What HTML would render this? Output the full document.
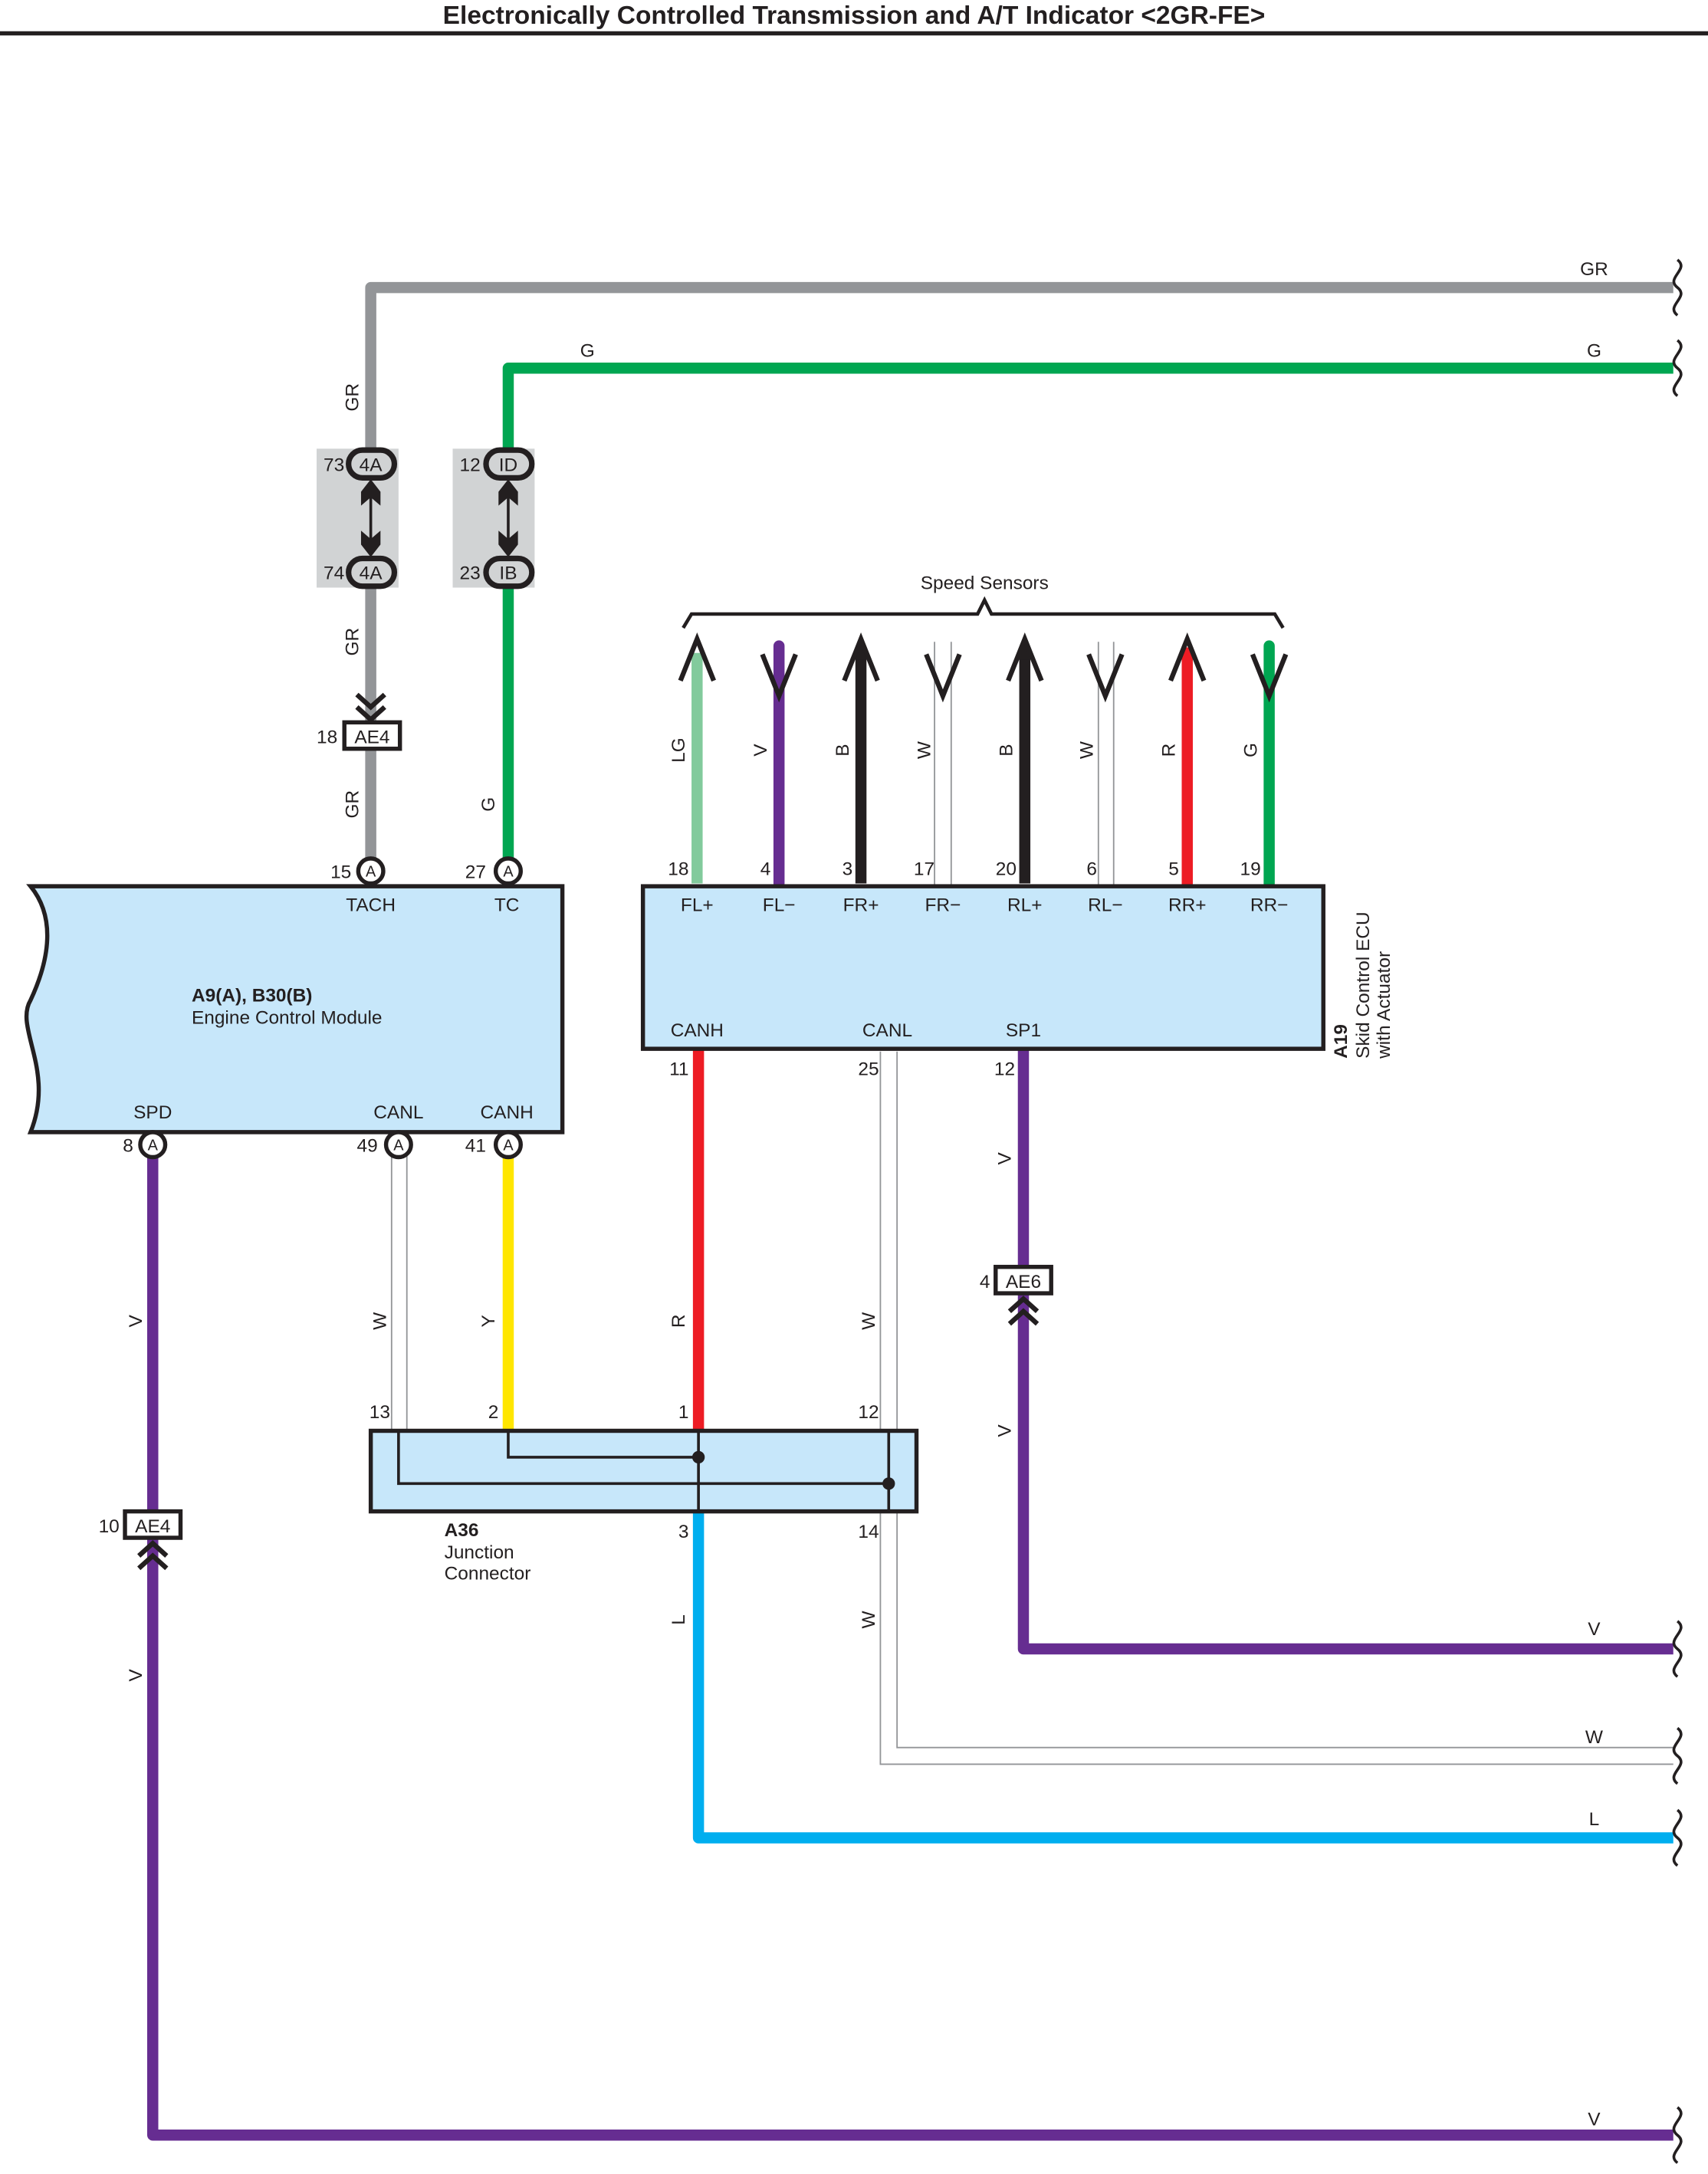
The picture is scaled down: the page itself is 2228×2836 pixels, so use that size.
<!DOCTYPE html>
<html><head><meta charset="utf-8"><style>html,body{margin:0;padding:0;background:#fff}svg{display:block}text{font-family:"Liberation Sans",sans-serif;font-size:13.5px;fill:#231f20}</style></head><body>
<svg width="2228" height="2836" viewBox="0 0 1230 1565" preserveAspectRatio="none" xmlns="http://www.w3.org/2000/svg">
<defs>
<g id="wave"><path d="M0,-20 c9,7 -9,13 0,20 c9,7 -9,13 0,20" fill="none" stroke="#231f20" stroke-width="2"/></g>
</defs>
<text x="615" y="17" text-anchor="middle" style="font-weight:bold;font-size:18.5px">Electronically Controlled Transmission and A/T Indicator &lt;2GR-FE&gt;</text>
<line x1="0" y1="24" x2="1230" y2="24" stroke="#231f20" stroke-width="3"/>

<!-- GR wire -->
<path d="M267,627 V207 H1205" fill="none" stroke="#939598" stroke-width="8" stroke-linejoin="round"/>
<!-- G wire -->
<path d="M366,627 V265 H1205" fill="none" stroke="#00a651" stroke-width="8" stroke-linejoin="round"/>
<use href="#wave" x="1208" y="207"/>
<use href="#wave" x="1208" y="265"/>
<text x="1148" y="198" text-anchor="middle">GR</text>
<text x="1148" y="257" text-anchor="middle">G</text>
<text x="423" y="257" text-anchor="middle">G</text>

<!-- gray connector boxes (over wires) -->
<rect x="228" y="323" width="59" height="100" fill="#d1d3d4"/>
<rect x="326" y="323" width="59" height="100" fill="#d1d3d4"/>

<!-- inline connectors -->
<g stroke="#231f20" stroke-width="4" fill="#d1d3d4">
<rect x="251" y="324" width="33" height="20" rx="10"/>
<rect x="251" y="402" width="33" height="20" rx="10"/>
<rect x="350" y="324" width="33" height="20" rx="10"/>
<rect x="350" y="402" width="33" height="20" rx="10"/>
</g>
<g stroke="#231f20" stroke-width="2">
<line x1="267" y1="350" x2="267" y2="396"/><line x1="366" y1="350" x2="366" y2="396"/>
</g>
<g fill="#231f20">
<path d="M267,345 l7,9 v10 l-7,-6 l-7,6 v-10z"/><path d="M267,401 l7,-9 v-10 l-7,6 l-7,-6 v10z"/>
<path d="M366,345 l7,9 v10 l-7,-6 l-7,6 v-10z"/><path d="M366,401 l7,-9 v-10 l-7,6 l-7,-6 v10z"/>
</g>
<g text-anchor="middle">
<text x="267" y="339">4A</text><text x="267" y="417">4A</text>
<text x="366" y="339">ID</text><text x="366" y="417">IB</text>
</g>
<g text-anchor="end">
<text x="248" y="339">73</text><text x="248" y="417">74</text>
<text x="346" y="339">12</text><text x="346" y="417">23</text>
</g>

<!-- AE4 top -->
<path d="M257,500 l10,9 l10,-9 M257,509 l10,9 l10,-9" fill="none" stroke="#231f20" stroke-width="3.5"/>
<rect x="248" y="520" width="40" height="19" fill="#fff" stroke="#231f20" stroke-width="3"/>
<text x="268" y="535" text-anchor="middle">AE4</text>
<text x="243" y="535" text-anchor="end">18</text>

<g text-anchor="middle">
<text transform="translate(258,286) rotate(-90)">GR</text>
<text transform="translate(258,462) rotate(-90)">GR</text>
<text transform="translate(258,579) rotate(-90)">GR</text>
<text transform="translate(356,579) rotate(-90)">G</text>
</g>

<!-- ECM -->
<path d="M22,638 H405 V815 H22 C40,770 10,740 22,720 C36,690 40,660 22,638 Z" fill="#c7e7fa" stroke="#231f20" stroke-width="3"/>
<text x="138" y="721" style="font-weight:bold">A9(A), B30(B)</text>
<text x="138" y="737">Engine Control Module</text>
<text x="267" y="656" text-anchor="middle">TACH</text>
<text x="365" y="656" text-anchor="middle">TC</text>
<text x="110" y="805" text-anchor="middle">SPD</text>
<text x="287" y="805" text-anchor="middle">CANL</text>
<text x="365" y="805" text-anchor="middle">CANH</text>

<!-- lower wires -->
<path d="M110,824 V1537 H1205" fill="none" stroke="#662d91" stroke-width="8" stroke-linejoin="round"/>
<use href="#wave" x="1208" y="1537"/>
<text x="1148" y="1530" text-anchor="middle">V</text>
<g stroke="#939598" stroke-width="1"><line x1="282" y1="832" x2="282" y2="1030"/><line x1="293" y1="832" x2="293" y2="1030"/></g>
<line x1="366" y1="832" x2="366" y2="1030" stroke="#ffe600" stroke-width="8"/>
<line x1="503" y1="755" x2="503" y2="1030" stroke="#ed1c24" stroke-width="8"/>
<path d="M503,1088 V1323 H1205" fill="none" stroke="#00aeef" stroke-width="8" stroke-linejoin="round"/>
<use href="#wave" x="1208" y="1323"/>
<text x="1148" y="1314" text-anchor="middle">L</text>
<g stroke="#939598" stroke-width="1" fill="none">
<line x1="634" y1="757" x2="634" y2="1030"/><line x1="646" y1="757" x2="646" y2="1030"/>
<path d="M634,1088 V1270 H1205"/><path d="M646,1088 V1258 H1205"/>
</g>
<use href="#wave" x="1208" y="1264"/>
<text x="1148" y="1255" text-anchor="middle">W</text>
<path d="M737,755 V1187 H1205" fill="none" stroke="#662d91" stroke-width="8" stroke-linejoin="round"/>
<use href="#wave" x="1208" y="1187"/>
<text x="1148" y="1177" text-anchor="middle">V</text>

<rect x="90" y="1088" width="40" height="19" fill="#fff" stroke="#231f20" stroke-width="3"/>
<text x="110" y="1103" text-anchor="middle">AE4</text>
<text x="86" y="1103" text-anchor="end">10</text>
<path d="M100,1120 l10,-9 l10,9 M100,1129 l10,-9 l10,9" fill="none" stroke="#231f20" stroke-width="3.5"/>
<rect x="717" y="912" width="40" height="19" fill="#fff" stroke="#231f20" stroke-width="3"/>
<text x="737" y="927" text-anchor="middle">AE6</text>
<text x="713" y="927" text-anchor="end">4</text>
<path d="M727,944 l10,-9 l10,9 M727,953 l10,-9 l10,9" fill="none" stroke="#231f20" stroke-width="3.5"/>

<!-- A36 -->
<rect x="267" y="1030" width="393" height="58" fill="#c7e7fa" stroke="#231f20" stroke-width="3"/>
<g stroke="#231f20" stroke-width="2" fill="none">
<path d="M287,1030 V1068 H640"/><path d="M366,1030 V1049 H503"/>
<line x1="503" y1="1030" x2="503" y2="1088"/><line x1="640" y1="1030" x2="640" y2="1088"/>
</g>
<circle cx="503" cy="1049" r="4.5" fill="#231f20"/><circle cx="640" cy="1068" r="4.5" fill="#231f20"/>
<g text-anchor="end">
<text x="281" y="1021">13</text><text x="359" y="1021">2</text><text x="496" y="1021">1</text><text x="633" y="1021">12</text>
<text x="496" y="1107">3</text><text x="633" y="1107">14</text>
</g>
<text x="320" y="1106" style="font-weight:bold">A36</text>
<text x="320" y="1122">Junction</text>
<text x="320" y="1137">Connector</text>

<g text-anchor="middle">
<text transform="translate(102,951) rotate(-90)">V</text>
<text transform="translate(278,951) rotate(-90)">W</text>
<text transform="translate(356,951) rotate(-90)">Y</text>
<text transform="translate(493,951) rotate(-90)">R</text>
<text transform="translate(630,951) rotate(-90)">W</text>
<text transform="translate(728,834) rotate(-90)">V</text>
<text transform="translate(728,1030) rotate(-90)">V</text>
<text transform="translate(493,1166) rotate(-90)">L</text>
<text transform="translate(630,1166) rotate(-90)">W</text>
<text transform="translate(102,1206) rotate(-90)">V</text>
</g>

<g fill="#fff" stroke="#231f20" stroke-width="3">
<circle cx="267" cy="627" r="9"/><circle cx="366" cy="627" r="9"/>
<circle cx="110" cy="824" r="9"/><circle cx="287" cy="824" r="9"/><circle cx="366" cy="824" r="9"/>
</g>
<g text-anchor="middle">
<text x="267" y="631" style="font-size:11px">A</text><text x="366" y="631" style="font-size:11px">A</text>
<text x="110" y="828" style="font-size:11px">A</text><text x="287" y="828" style="font-size:11px">A</text><text x="366" y="828" style="font-size:11px">A</text>
</g>
<g text-anchor="end">
<text x="253" y="632">15</text><text x="350" y="632">27</text>
<text x="96" y="829">8</text><text x="272" y="829">49</text><text x="350" y="829">41</text>
</g>

<!-- Speed sensors -->
<text x="709" y="424" text-anchor="middle">Speed Sensors</text>
<path d="M492,452 L498,442 H704 L709,432 L714,442 H918 L924,452" fill="none" stroke="#231f20" stroke-width="2.5"/>
<g stroke-width="8" stroke-linecap="round">
<line x1="502" y1="470" x2="502" y2="636" stroke="#82ca9c" stroke-linecap="butt"/>
<line x1="561" y1="465" x2="561" y2="636" stroke="#662d91"/>
<line x1="620" y1="470" x2="620" y2="636" stroke="#231f20" stroke-linecap="butt"/>
<line x1="738" y1="470" x2="738" y2="636" stroke="#231f20" stroke-linecap="butt"/>
<line x1="855" y1="470" x2="855" y2="636" stroke="#ed1c24"/>
<line x1="914" y1="465" x2="914" y2="636" stroke="#00a651"/>
</g>
<g stroke="#939598" stroke-width="1">
<line x1="673" y1="462" x2="673" y2="638"/><line x1="685" y1="462" x2="685" y2="638"/>
<line x1="791" y1="462" x2="791" y2="638"/><line x1="802" y1="462" x2="802" y2="638"/>
</g>
<g fill="#231f20"><path d="M616,475 L620,460 L624,475z"/><path d="M734,475 L738,460 L742,475z"/></g>
<g fill="none" stroke="#231f20" stroke-width="3.5">
<path d="M490,490 L502,460 L514,490"/><path d="M608,490 L620,460 L632,490"/><path d="M726,490 L738,460 L750,490"/><path d="M843,490 L855,460 L867,490"/>
<path d="M549,471 L561,501 L573,471"/><path d="M667,471 L679,501 L691,471"/><path d="M784,471 L796,501 L808,471"/><path d="M902,471 L914,501 L926,471"/>
</g>
<g text-anchor="middle">
<text transform="translate(493,540) rotate(-90)">LG</text>
<text transform="translate(552,540) rotate(-90)">V</text>
<text transform="translate(611,540) rotate(-90)">B</text>
<text transform="translate(670,540) rotate(-90)">W</text>
<text transform="translate(729,540) rotate(-90)">B</text>
<text transform="translate(787,540) rotate(-90)">W</text>
<text transform="translate(846,540) rotate(-90)">R</text>
<text transform="translate(905,540) rotate(-90)">G</text>
</g>
<g text-anchor="end">
<text x="496" y="630">18</text><text x="555" y="630">4</text><text x="614" y="630">3</text><text x="673" y="630">17</text>
<text x="732" y="630">20</text><text x="790" y="630">6</text><text x="849" y="630">5</text><text x="908" y="630">19</text>
</g>

<!-- ECU -->
<rect x="463" y="638" width="490" height="117" fill="#c7e7fa" stroke="#231f20" stroke-width="3"/>
<g text-anchor="middle">
<text x="502" y="656">FL+</text><text x="561" y="656">FL−</text><text x="620" y="656">FR+</text><text x="679" y="656">FR−</text>
<text x="738" y="656">RL+</text><text x="796" y="656">RL−</text><text x="855" y="656">RR+</text><text x="914" y="656">RR−</text>
<text x="502" y="746">CANH</text><text x="639" y="746">CANL</text><text x="737" y="746">SP1</text>
</g>
<g text-anchor="end"><text x="496" y="774">11</text><text x="633" y="774">25</text><text x="731" y="774">12</text></g>
<text transform="translate(970,762) rotate(-90)" style="font-weight:bold">A19</text>
<text transform="translate(986,762) rotate(-90)">Skid Control ECU</text>
<text transform="translate(1001,762) rotate(-90)">with Actuator</text>
</svg>
</body></html>
